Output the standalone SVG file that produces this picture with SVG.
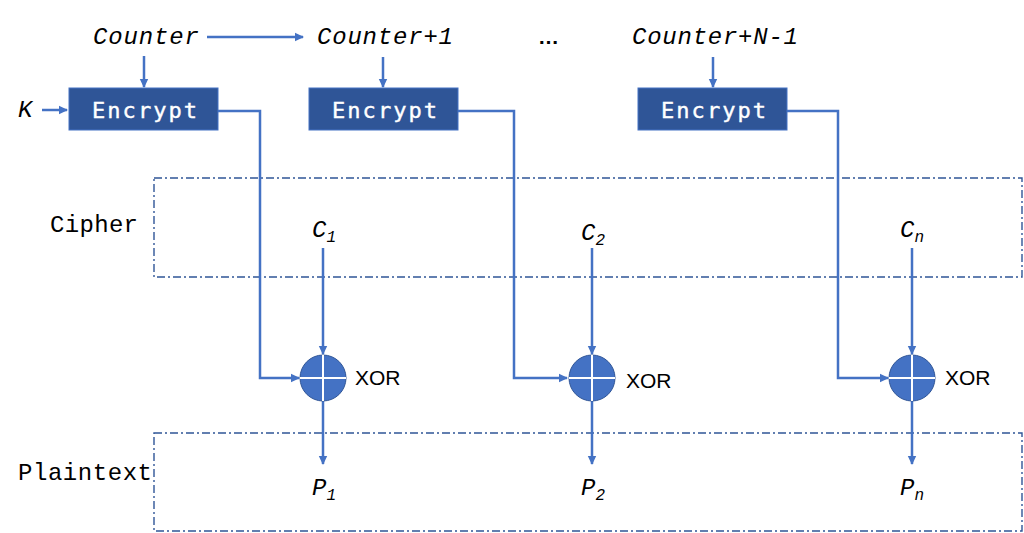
<svg xmlns="http://www.w3.org/2000/svg" width="1024" height="533" viewBox="0 0 1024 533">
<style>
.it{font-family:"Liberation Mono","DejaVu Sans Mono",monospace;font-style:italic;font-size:24px;fill:#000}
.mono{font-family:"Liberation Mono","DejaVu Sans Mono",monospace;font-size:24px;fill:#000}
.enc{font-family:"DejaVu Sans Mono","Liberation Mono",monospace;font-size:22px;fill:#fff;stroke:#fff;stroke-width:0.4}
.xor{font-family:"Liberation Sans",Arial,sans-serif;font-size:21px;fill:#000}
.box{fill:#2F5597;stroke:#4472C4;stroke-width:1}
.ln{fill:none;stroke:#4472C4;stroke-width:2.5}
.dash{fill:none;stroke:#2F5597;stroke-width:1.4;stroke-dasharray:8 3 2 3}
.sub{font-size:16px}
</style>
<defs>
<marker id="ah" markerWidth="10" markerHeight="10" refX="8" refY="5" orient="auto" markerUnits="userSpaceOnUse">
<path d="M0,0.8 L9,5 L0,9.2 Z" fill="#4472C4"/>
</marker>
</defs>

<g id="regions">
<rect class="dash" x="154" y="178" width="868" height="99"/>
<rect class="dash" x="154" y="433" width="868" height="98"/>
<text class="mono" x="50" y="232" textLength="88">Cipher</text>
<text class="mono" x="18" y="480" textLength="134">Plaintext</text>
</g>

<g id="counters">
<text class="it" x="93" y="44" textLength="106">Counter</text>
<text class="it" x="317" y="44" textLength="136">Counter+1</text>
<text class="xor" x="538" y="44" font-weight="bold">…</text>
<text class="it" x="632" y="44" textLength="166">Counter+N-1</text>
<text class="it" x="18" y="117">K</text>
</g>

<g id="enc1"><rect class="box" x="69" y="88" width="149" height="42"/><text class="enc" x="92" y="118" textLength="105">Encrypt</text></g>
<g id="enc2"><rect class="box" x="309" y="88" width="149" height="42"/><text class="enc" x="332" y="118" textLength="105">Encrypt</text></g>
<g id="enc3"><rect class="box" x="638" y="88" width="149" height="42"/><text class="enc" x="661" y="118" textLength="105">Encrypt</text></g>

<g id="connectors">
<line class="ln" x1="207" y1="37" x2="303" y2="37" marker-end="url(#ah)"/>
<line class="ln" x1="144" y1="56" x2="144" y2="87" marker-end="url(#ah)"/>
<line class="ln" x1="383" y1="57" x2="383" y2="87" marker-end="url(#ah)"/>
<line class="ln" x1="713" y1="57" x2="713" y2="87" marker-end="url(#ah)"/>
<line class="ln" x1="42" y1="110" x2="67" y2="110" marker-end="url(#ah)"/>
<polyline class="ln" points="218,111 260,111 260,378 299,378" marker-end="url(#ah)"/>
<polyline class="ln" points="458,111 514,111 514,378 567,378" marker-end="url(#ah)"/>
<polyline class="ln" points="787,111 838,111 838,378 888,378" marker-end="url(#ah)"/>
<line class="ln" x1="323" y1="248" x2="323" y2="354" marker-end="url(#ah)"/>
<line class="ln" x1="592" y1="248" x2="592" y2="354" marker-end="url(#ah)"/>
<line class="ln" x1="912" y1="248" x2="912" y2="354" marker-end="url(#ah)"/>
<line class="ln" x1="323" y1="401" x2="323" y2="464" marker-end="url(#ah)"/>
<line class="ln" x1="592" y1="401" x2="592" y2="464" marker-end="url(#ah)"/>
<line class="ln" x1="912" y1="401" x2="912" y2="464" marker-end="url(#ah)"/>
</g>

<g id="xor1"><circle cx="323" cy="378" r="23" fill="#4472C4" stroke="#2F5597" stroke-width="1"/><path d="M300,378 H346 M323,355 V401" stroke="#fff" stroke-width="2"/><text class="xor" x="355" y="385">XOR</text></g>
<g id="xor2"><circle cx="592" cy="378" r="23" fill="#4472C4" stroke="#2F5597" stroke-width="1"/><path d="M569,378 H615 M592,355 V401" stroke="#fff" stroke-width="2"/><text class="xor" x="626" y="388">XOR</text></g>
<g id="xor3"><circle cx="912" cy="378" r="23" fill="#4472C4" stroke="#2F5597" stroke-width="1"/><path d="M889,378 H935 M912,355 V401" stroke="#fff" stroke-width="2"/><text class="xor" x="945" y="385">XOR</text></g>

<g id="ciphers">
<text class="it" x="312" y="237">C<tspan class="sub" dy="5">1</tspan></text>
<text class="it" x="581" y="240">C<tspan class="sub" dy="5">2</tspan></text>
<text class="it" x="900" y="237">C<tspan class="sub" dy="5">n</tspan></text>
</g>
<g id="plains">
<text class="it" x="312" y="495">P<tspan class="sub" dy="5">1</tspan></text>
<text class="it" x="581" y="495">P<tspan class="sub" dy="5">2</tspan></text>
<text class="it" x="900" y="495">P<tspan class="sub" dy="5">n</tspan></text>
</g>
</svg>
